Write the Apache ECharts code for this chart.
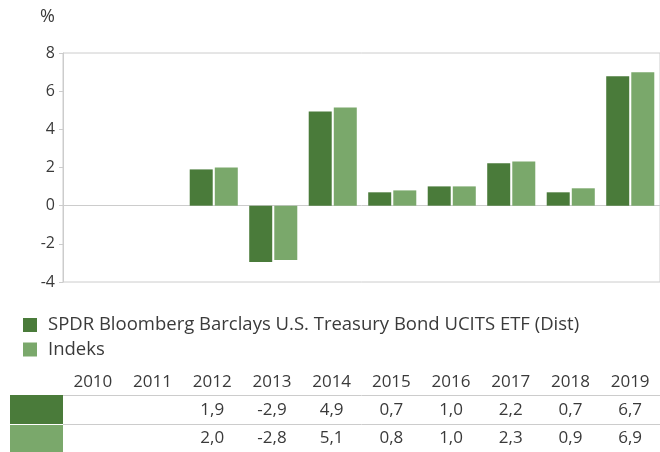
<!DOCTYPE html>
<html><head><meta charset="utf-8">
<script src="https://cdn.jsdelivr.net/npm/echarts@6/dist/echarts.min.js"></script>
<style>html,body{margin:0;padding:0;background:#fff}#c{width:660px;height:452px}</style>
</head><body><div id="c"></div>
<script>
var years = ['2010','2011','2012','2013','2014','2015','2016','2017','2018','2019'];
var fundName = 'SPDR Bloomberg Barclays U.S. Treasury Bond UCITS ETF (Dist)';
var indexName = 'Indeks';
var fundValues = [null, null, 1.90, -2.95, 4.94, 0.70, 1.01, 2.22, 0.70, 6.78];
var indexValues = [null, null, 2.00, -2.85, 5.15, 0.80, 1.01, 2.32, 0.91, 6.99];
var yTicks = [-4, -2, 0, 2, 4, 6, 8];

var dark = '#4A7B3A', light = '#7AA86B', txt = '#3a3a3a', line = '#cccccc';
var font = 'Open Sans';
function fmt(v){
  if (v == null) return '';
  var t = Math.trunc(v * 10 + (v < 0 ? -1e-6 : 1e-6)) / 10;
  return t.toFixed(1).replace('.', ',');
}

var gridTop = 53, gridBottom = 170;
var chart = echarts.init(document.getElementById('c'));
var rowAxis = function(labels, offset){
  return {type:'category', data: labels, position:'bottom', offset: offset, gridIndex:1,
    axisLine:{show:false}, axisTick:{show:false}, splitLine:{show:false},
    axisLabel:{show:true, interval:0, margin:0, verticalAlign:'middle', color:txt, fontFamily:font, fontSize:17}};
};
chart.setOption({
  animation:false,
  textStyle:{fontFamily:font},
  grid:[
    {left:65, right:-6, top:gridTop, bottom:gridBottom, show:false},
    {left:63, right:-4, top:gridTop, bottom:gridBottom, show:true, borderColor:line, borderWidth:1}
  ],
  legend:{orient:'vertical', left:23, top:315.5, padding:0, itemWidth:14, itemHeight:14, itemGap:5.5, icon:'rect',
    textStyle:{color:txt, fontFamily:font, fontSize:18.5, padding:[0,0,0,6]},
    data:[fundName, indexName]},
  xAxis:[
    {type:'category', data: years, gridIndex:0, show:false},
    {type:'category', data: years, gridIndex:1,
      axisLine:{show:true, onZero:true, lineStyle:{color:line}}, axisTick:{show:false}, axisLabel:{show:false}},
    rowAxis(years, 100),
    rowAxis(fundValues.map(fmt), 128),
    rowAxis(indexValues.map(fmt), 156)
  ],
  yAxis:[
    {type:'value', gridIndex:0, min:yTicks[0], max:yTicks[yTicks.length-1], interval:2, show:false},
    {type:'value', gridIndex:1, min:yTicks[0], max:yTicks[yTicks.length-1], interval:2,
      name:'%', nameLocation:'end', nameGap:27,
      nameTextStyle:{color:txt, fontFamily:font, fontSize:18, align:'right', padding:[0,8,0,0]},
      axisLine:{show:true, lineStyle:{color:line}}, axisTick:{show:true, length:4, lineStyle:{color:line}},
      splitLine:{show:false},
      axisLabel:{color:txt, fontFamily:font, fontSize:16, margin:8}}
  ],
  series:[
    {name:fundName, type:'bar', xAxisIndex:0, yAxisIndex:0, data:fundValues, barWidth:23, barGap:'9%', itemStyle:{color:dark}},
    {name:indexName, type:'bar', xAxisIndex:0, yAxisIndex:0, data:indexValues, barWidth:23, itemStyle:{color:light}}
  ],
  graphic:[
    {type:'line', shape:{x1:63, y1:395.5, x2:660, y2:395.5}, style:{stroke:line, lineWidth:1}},
    {type:'line', shape:{x1:63, y1:424.5, x2:660, y2:424.5}, style:{stroke:line, lineWidth:1}},
    {type:'rect', shape:{x:10, y:395, width:53, height:29}, style:{fill:dark}},
    {type:'rect', shape:{x:10, y:425, width:53, height:27}, style:{fill:light}}
  ]
});
</script></body></html>
